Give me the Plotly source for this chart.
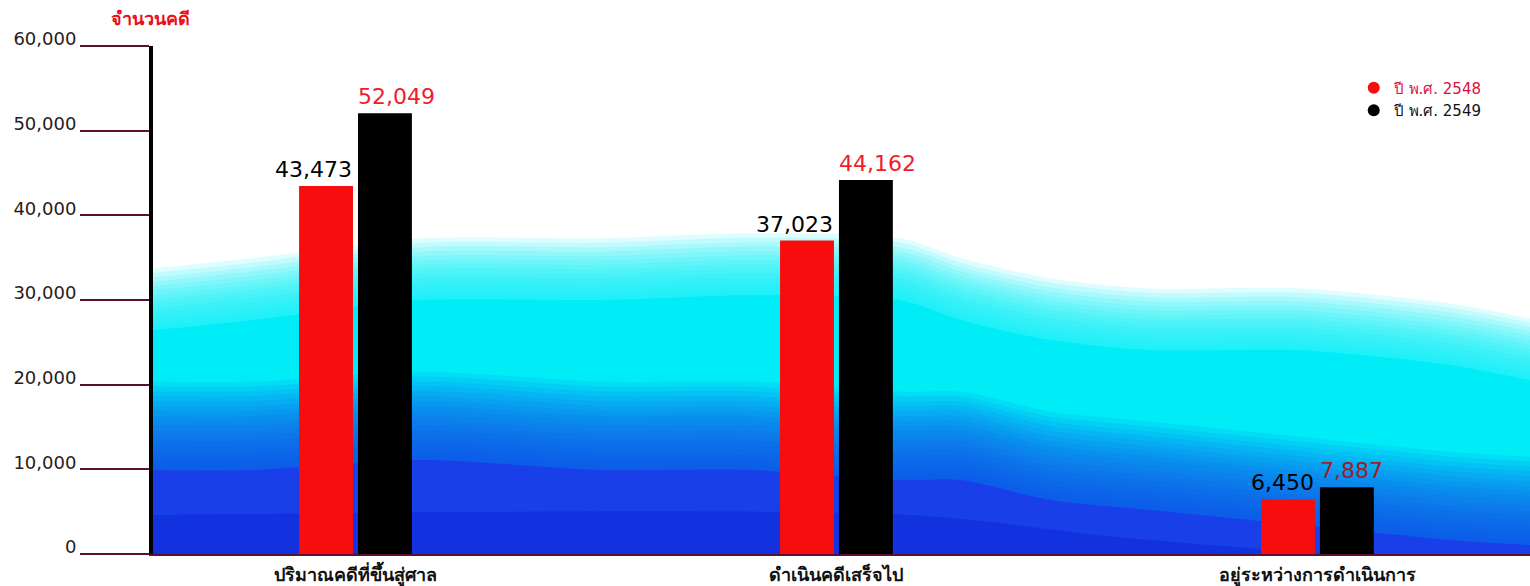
import plotly.graph_objects as go

# ---------------- data ----------------
categories = ["ปริมาณคดีที่ขึ้นสู่ศาล", "ดำเนินคดีเสร็จไป", "อยู่ระหว่างการดำเนินการ"]
cases_2548 = [43473, 37023, 6450]
cases_2549 = [52049, 44162, 7887]
series_names = ["ปี พ.ศ. 2548", "ปี พ.ศ. 2549"]
y_ticks = [0, 10000, 20000, 30000, 40000, 50000, 60000]
y_tick_labels = ["0", "10,000", "20,000", "30,000", "40,000", "50,000", "60,000"]
y_title = "จำนวนคดี"

# decorative background (fraction of plot width, height in cases)
deco_x = [0.0, 0.072, 0.195, 0.326, 0.434, 0.543, 0.587, 0.652, 0.724, 0.833, 0.942, 1.0]
cyan_top = [26450, 27640, 30000, 30000, 30590, 30000, 27640, 25270, 24090, 24090, 22320, 20550]
blue_top = [9920, 9920, 11100, 9920, 9920, 8740, 8740, 6380, 5200, 3420, 1650, 1060]
dark_x = [0.0, 0.55, 0.70, 0.85]
dark_top = [4600, 4600, 2000, 0]

RED = "#f70d0d"
BLACK = "#000000"
MAROON = "#5a1030"
NUMFONT = "DejaVu Sans, Verdana, sans-serif"
CYAN = "0,236,250"
BLUE = "26,62,232"
LABEL_2548 = "#000000"
LABEL_2549 = ["#f01c2c", "#f01c2c", "#9a1e2e"]

fig = go.Figure()


def band(xs, ys, color, alpha):
    fig.add_trace(go.Scatter(
        x=xs, y=ys, xaxis="x", yaxis="y", mode="lines",
        line=dict(width=0, shape="spline", smoothing=0.8), fill="tozeroy",
        fillcolor=f"rgba({color},{alpha})", hoverinfo="skip", showlegend=False))


# cyan body with soft top edge
band(deco_x, cyan_top, CYAN, 0.92)
for k in range(1, 15):
    band(deco_x, [v + k * 520 for v in cyan_top], CYAN, 0.13)
# blue lower body with soft transition
for k in range(18, 0, -1):
    band(deco_x, [v + k * 580 for v in blue_top], BLUE, 0.09)
band(deco_x, blue_top, BLUE, 0.95)
band(dark_x, dark_top, "12,36,214", 0.5)

# bars
fig.add_trace(go.Bar(
    x=categories, y=cases_2548, xaxis="x2", yaxis="y", name=series_names[0],
    marker=dict(color=RED, line=dict(width=0)), showlegend=False))
fig.add_trace(go.Bar(
    x=categories, y=cases_2549, xaxis="x2", yaxis="y", name=series_names[1],
    marker=dict(color=BLACK, line=dict(width=0)), showlegend=False))

# legend entries (circle markers)
fig.add_trace(go.Scatter(
    x=[None], y=[None], xaxis="x2", yaxis="y", mode="markers",
    marker=dict(symbol="circle", size=14, color=RED),
    name=f'<span style="color:#d8103c">{series_names[0]}</span>'))
fig.add_trace(go.Scatter(
    x=[None], y=[None], xaxis="x2", yaxis="y", mode="markers",
    marker=dict(symbol="circle", size=14, color=BLACK),
    name=f'<span style="color:#111111">{series_names[1]}</span>'))

# value labels: 2548 right-aligned to its bar, 2549 left-aligned to its bar
annotations = []
for cat, v in zip(categories, cases_2548):
    annotations.append(dict(x=cat, y=v, xref="x2", yref="y", text=f"{v:,}",
                            xanchor="right", yanchor="bottom", xshift=-1, yshift=2,
                            showarrow=False,
                            font=dict(size=22, color=LABEL_2548, family=NUMFONT)))
for cat, v, c in zip(categories, cases_2549, LABEL_2549):
    annotations.append(dict(x=cat, y=v, xref="x2", yref="y", text=f"{v:,}",
                            xanchor="left", yanchor="bottom", xshift=1, yshift=2,
                            showarrow=False,
                            font=dict(size=22, color=c, family=NUMFONT)))
annotations.append(dict(text=f"<b>{y_title}</b>", xref="paper", yref="paper",
                        x=-0.002, y=1.055, xanchor="center", yanchor="middle",
                        showarrow=False, font=dict(size=18, color="#e8101a", family=NUMFONT)))

fig.update_layout(
    width=1530, height=586,
    margin=dict(l=153, r=0, t=46, b=32, autoexpand=False),
    paper_bgcolor="white", plot_bgcolor="white",
    font=dict(family=NUMFONT, color="#111111"),
    barmode="group", bargap=0.755, bargroupgap=0.085,
    xaxis=dict(type="linear", range=[0, 1], showline=True, linecolor=MAROON, linewidth=2,
               showticklabels=False, showgrid=False, zeroline=False, ticks="",
               automargin=False),
    xaxis2=dict(type="category", overlaying="x", anchor="y", side="bottom",
                range=[-0.421, 2.442], showline=False, showgrid=False, zeroline=False,
                ticks="", automargin=False, ticklabelstandoff=8,
                tickfont=dict(size=18, color="#111111", family=NUMFONT, weight="bold")),
    yaxis=dict(range=[0, 60000], tickmode="array", tickvals=y_ticks, ticktext=y_tick_labels,
               ticks="outside", ticklen=69, tickwidth=2, tickcolor=MAROON,
               showline=True, linecolor="black", linewidth=4,
               showgrid=False, zeroline=False, automargin=False,
               tickfont=dict(size=18, color="#2a1a1a", family=NUMFONT),
               ticklabelstandoff=0, ticklabelshift=-7),
    legend=dict(x=0.872, y=0.95, xanchor="left", yanchor="top",
                bgcolor="rgba(0,0,0,0)", font=dict(size=15, family=NUMFONT),
                itemsizing="constant", tracegroupgap=4),
    showlegend=True,
    annotations=annotations,
)

fig.write_html("out.html", config={"displayModeBar": False},
               post_script="document.body.style.margin='0';")
